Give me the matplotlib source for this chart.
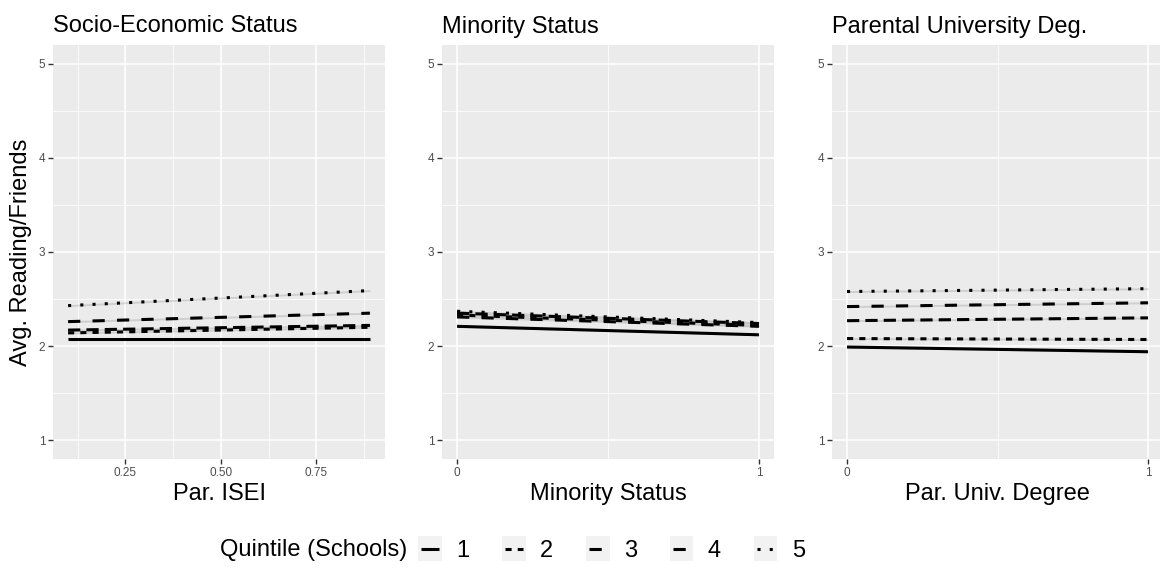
import matplotlib
matplotlib.use("Agg")
import matplotlib.pyplot as plt
from matplotlib.legend_handler import HandlerLine2D
from matplotlib.lines import Line2D
from matplotlib.patches import Rectangle
import numpy as np

plt.rcParams['font.family'] = ['Liberation Sans', 'DejaVu Sans']

# data: start / end of each fitted line
quintiles = ['1', '2', '3', '4', '5']

ses_x = [0.10, 0.89]
ses_y = {'1': [2.08, 2.08], '2': [2.14, 2.20], '3': [2.17, 2.22],
         '4': [2.26, 2.35], '5': [2.43, 2.59]}

min_x = [0, 1]
min_y = {'1': [2.21, 2.12], '2': [2.33, 2.22], '3': [2.35, 2.24],
         '4': [2.31, 2.21], '5': [2.37, 2.25]}

uni_x = [0, 1]
uni_y = {'1': [1.99, 1.94], '2': [2.08, 2.07], '3': [2.27, 2.30],
         '4': [2.42, 2.46], '5': [2.58, 2.61]}

titles = ['Socio-Economic Status', 'Minority Status', 'Parental University Deg.']
xlabels = ['Par. ISEI', 'Minority Status', 'Par. Univ. Degree']

dashes = {'1': None, '2': (2, 2), '3': (4, 2), '4': (4, 4), '5': (1, 3)}
LW = 2.2

fig = plt.figure(figsize=(11.6, 5.68), dpi=100)

H = 568.0
W = 1160.0
bottom = (H - 459) / H
height = 414 / H
lefts = [53, 442, 832]
widths = [332, 332, 331]

panels = [(ses_x, ses_y), (min_x, min_y), (uni_x, uni_y)]

def style_line(line, q):
    if dashes[q] is None:
        line.set_linestyle('-')
    else:
        line.set_dashes(dashes[q])

for i, (xs, ys) in enumerate(panels):
    ax = fig.add_axes([lefts[i] / W, bottom, widths[i] / W, height])
    ax.set_facecolor('#EBEBEB')
    for s in ax.spines.values():
        s.set_visible(False)
    xs = np.array(xs)
    for q in quintiles:
        y = np.array(ys[q])
        ax.fill_between(xs, y - 0.01, y + 0.01, color='#999999', alpha=0.35, lw=0, zorder=2)
        ln, = ax.plot(xs, y, color='black', lw=LW, zorder=3, solid_capstyle='butt')
        style_line(ln, q)
    rng = xs[1] - xs[0]
    ax.set_xlim(xs[0] - 0.05 * rng, xs[1] + 0.05 * rng)
    ax.set_ylim(0.8, 5.2)
    ax.set_yticks([1, 2, 3, 4, 5])
    ax.set_yticks([1.5, 2.5, 3.5, 4.5], minor=True)
    if i == 0:
        ax.set_xticks([0.25, 0.50, 0.75])
        ax.set_xticklabels(['0.25', '0.50', '0.75'])
        ax.set_xticks([0.125, 0.375, 0.625, 0.875], minor=True)
    else:
        ax.set_xticks([0, 1])
        ax.set_xticklabels(['0', '1'])
        ax.set_xticks([0.5], minor=True)
    ax.grid(which='major', color='white', lw=1.1, zorder=0)
    ax.grid(which='minor', color='white', lw=0.55, zorder=0)
    ax.set_axisbelow(True)
    ax.tick_params(which='major', length=3.5, width=1, color='#333333',
                   labelsize=8.5, labelcolor='#4D4D4D', pad=2)
    ax.tick_params(which='minor', length=0)
    ax.set_title(titles[i], loc='left', fontsize=17, pad=9)
    ax.set_xlabel(xlabels[i], fontsize=17, labelpad=3)
    if i == 0:
        ax.set_ylabel('Avg. Reading/Friends', fontsize=17, labelpad=5)


class KeyHandler(HandlerLine2D):
    # grey key box with the line pattern drawn on top, like ggplot keys
    def create_artists(self, legend, orig_handle, xdescent, ydescent,
                       width, height, fontsize, trans):
        box = Rectangle((-xdescent, -ydescent - 0.1 * height), width, height * 1.2,
                        facecolor='#F2F2F2', edgecolor='none', transform=trans)
        y = -ydescent + height / 2.0
        ln = Line2D([-xdescent + 0.12 * width, -xdescent + 0.88 * width], [y, y],
                    color='black', lw=LW, transform=trans, solid_capstyle='butt')
        style_line(ln, orig_handle.get_label())
        return [box, ln]


handles = [Line2D([0], [0], color='black', lw=LW, label=q) for q in quintiles]
leg = fig.legend(handles=handles, labels=quintiles, loc='center left',
                 bbox_to_anchor=(418 / W, 18 / H), ncol=5, frameon=False,
                 fontsize=17, handlelength=1.0, handleheight=1.0,
                 handletextpad=0.6, columnspacing=1.4, borderaxespad=0,
                 borderpad=0, handler_map={Line2D: KeyHandler()})
fig.text(407 / W, 18 / H, 'Quintile (Schools)', fontsize=17, ha='right', va='center')

fig.savefig('out.png', dpi=100)
